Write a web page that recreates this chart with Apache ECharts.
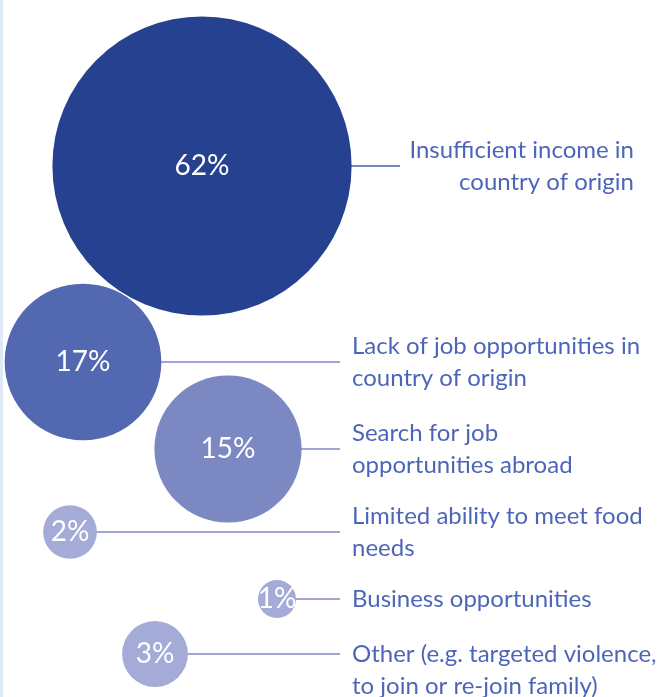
<!DOCTYPE html>
<html>
<head>
<meta charset="utf-8">
<script src="https://cdn.jsdelivr.net/npm/echarts@6/dist/echarts.min.js"></script>
<style>
  html, body { margin: 0; padding: 0; background: #ffffff; }
  #chart { width: 664px; height: 697px; }
</style>
</head>
<body>
<div id="chart"></div>
<script>
// Reasons for migrating, share of respondents (%)
const reasons = [
  'Insufficient income in\ncountry of origin',
  'Lack of job opportunities in\ncountry of origin',
  'Search for job\nopportunities abroad',
  'Limited ability to meet food\nneeds',
  'Business opportunities',
  'Other (e.g. targeted violence,\nto join or re-join family)'
];
const shares = [62, 17, 15, 2, 1, 3];

// Bubble layout on a page-sized coordinate plane (x across, y down)
const bubbleX = [202, 83, 228, 70, 277, 155];
const bubbleY = [166, 362, 449, 532, 599, 654];

const bubbleColors = ['#26418f', '#5268b0', '#7b88c2', '#a3abd6', '#a3abd6', '#a3abd6'];
const lineColors = ['#4f62ab', '#7f89c4', '#7f89c4', '#7f89c4', '#7f89c4', '#7f89c4'];
const textColor = '#1f3fa6';
const fontFamily = 'Lato, "Open Sans", sans-serif';

const W = 664, H = 697;
const leaderEnd = 340;     // where leader lines stop
const textLeft = 352;      // left edge of the side labels
const topLeaderEnd = 400;  // the largest bubble has a shorter, right-aligned label
const topTextRight = 634;

// Bubble area proportional to value
const radiusOf = v => 19 * Math.sqrt(v);

const bubbleData = shares.map((v, i) => ({
  value: [bubbleX[i], bubbleY[i], v],
  itemStyle: { color: bubbleColors[i], opacity: 1 }
}));

const leaderData = shares.map((v, i) => ({
  coords: [[bubbleX[i], bubbleY[i]], [i === 0 ? topLeaderEnd : leaderEnd, bubbleY[i]]],
  lineStyle: { color: lineColors[i] }
}));

const labelData = reasons.map((name, i) => {
  const last = i === reasons.length - 1;
  return {
    name: name,
    value: [i === 0 ? topTextRight : textLeft, bubbleY[i]],
    label: {
      align: i === 0 ? 'right' : 'left',
      verticalAlign: last ? 'top' : 'middle',
      offset: last ? [0, -16] : [0, 0]
    }
  };
});

const chart = echarts.init(document.getElementById('chart'), null, { renderer: 'canvas' });
chart.setOption({
  animation: false,
  backgroundColor: '#ffffff',
  grid: { left: 0, right: 0, top: 0, bottom: 0 },
  xAxis: { type: 'value', min: 0, max: W, show: false },
  yAxis: { type: 'value', min: 0, max: H, inverse: true, show: false },
  graphic: [{
    type: 'rect',
    left: 0, top: 0,
    shape: { width: 3, height: H },
    style: { fill: '#dde9f6' },
    z: 100
  }],
  series: [
    {
      type: 'lines',
      coordinateSystem: 'cartesian2d',
      polyline: false,
      z: 1,
      lineStyle: { width: 1.5, opacity: 1 },
      data: leaderData
    },
    {
      type: 'scatter',
      z: 2,
      symbol: 'circle',
      symbolSize: val => 2 * radiusOf(val[2]),
      data: bubbleData,
      itemStyle: { opacity: 1 },
      label: {
        show: true,
        position: 'inside',
        formatter: p => p.value[2] + '%',
        color: '#ffffff',
        fontFamily: fontFamily,
        fontSize: 28
      },
      emphasis: { disabled: true }
    },
    {
      type: 'scatter',
      z: 3,
      symbolSize: 0,
      data: labelData,
      label: {
        show: true,
        position: [0, 0],
        formatter: p => p.name,
        color: textColor,
        fontFamily: fontFamily,
        fontSize: 24,
        lineHeight: 32
      },
      emphasis: { disabled: true }
    }
  ]
});
</script>
</body>
</html>
